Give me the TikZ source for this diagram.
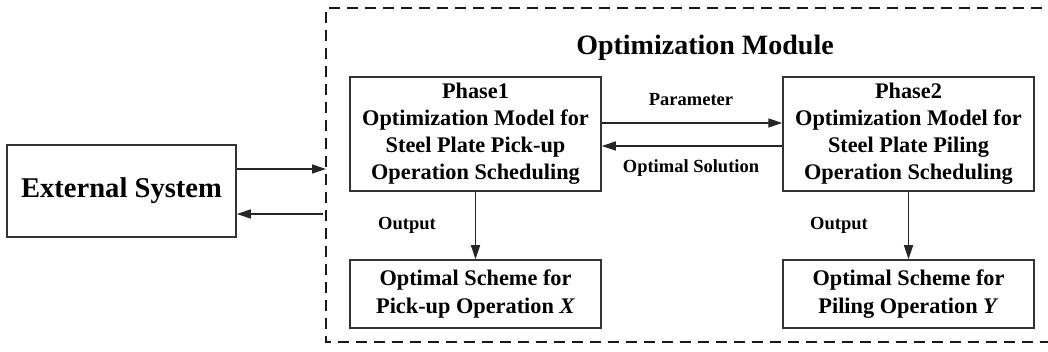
\documentclass[tikz,border=0pt]{standalone}
\usepackage{fontspec}
\setmainfont{Liberation Serif}
\usetikzlibrary{arrows.meta}
\begin{document}
\begin{tikzpicture}[x=1pt,y=-1pt,
  box/.style={draw=black!80,line width=1.5pt,rectangle,inner sep=0pt,align=center,font=\bfseries\fontsize{22.3}{27}\selectfont},
  arr/.style={draw=black!85,line width=1.3pt,-{Triangle[length=14pt,width=9pt]}},
  lbl/.style={font=\bfseries\fontsize{18.5}{22}\selectfont,inner sep=0pt},
  frame/.style={draw=black!90,line width=2pt,dash pattern=on 11pt off 7pt}]
\useasboundingbox (0,0) rectangle (1048,352);
\begin{scope}
\clip (0,0) rectangle (1048,352);
\draw[frame] (1060,8) -- (326,8) -- (326,342) -- (1060,342);
\end{scope}
\node[font=\bfseries\fontsize{28}{32}\selectfont,anchor=base,inner sep=0pt] (title) at (705,55) {Optimization Module};
\node[box,minimum width=229pt,minimum height=92pt,font=\bfseries\fontsize{28.6}{32}\selectfont] (ext) at (121.5,191) {External System};
\node[box,minimum width=251pt,minimum height=114pt] (p1) at (475.5,134) {Phase1\\Optimization Model for\\Steel Plate Pick-up\\Operation Scheduling};
\node[box,minimum width=251pt,minimum height=114pt] (p2) at (908.5,134) {Phase2\\Optimization Model for\\Steel Plate Piling\\Operation Scheduling};
\node[box,minimum width=251pt,minimum height=68pt,font=\bfseries\fontsize{22.3}{28}\selectfont] (o1) at (475.5,294) {Optimal Scheme for\\Pick-up Operation \textit{X}};
\node[box,minimum width=251pt,minimum height=68pt,font=\bfseries\fontsize{22.3}{28}\selectfont] (o2) at (908.5,294) {Optimal Scheme for\\Piling Operation \textit{Y}};
\coordinate (m1) at (326,169);
\coordinate (m2) at (323,214);
\draw[arr] (ext.east |- m1) -- (m1);
\draw[arr] (m2) -- (ext.east |- m2);
\draw[arr] ([yshift=11pt]p1.east) -- ([yshift=11pt]p2.west);
\draw[arr] ([yshift=-12pt]p2.west) -- ([yshift=-12pt]p1.east);
\node[lbl] (lpar) at (691,100) {Parameter};
\node[lbl] (lsol) at (691,168) {Optimal Solution};
\draw[arr] (p1.south) -- (o1.north);
\draw[arr] (p2.south) -- (o2.north);
\node[lbl] (out1) at (407,225) {Output};
\node[lbl] (out2) at (839,225) {Output};
\end{tikzpicture}
\end{document}
